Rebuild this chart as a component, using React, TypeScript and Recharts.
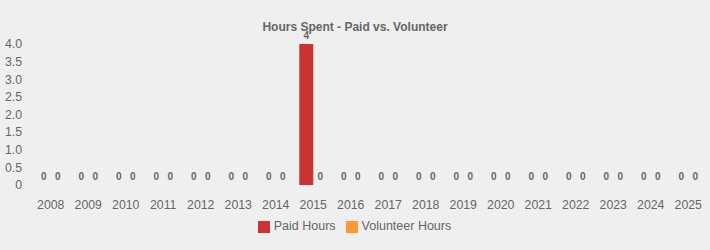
import React from 'react';
import { BarChart, Bar, XAxis, YAxis, Legend, LabelList } from 'recharts';

const years = ['2008','2009','2010','2011','2012','2013','2014','2015','2016','2017','2018','2019','2020','2021','2022','2023','2024','2025'];
const paidHours = [0,0,0,0,0,0,0,4,0,0,0,0,0,0,0,0,0,0];
const volunteerHours = [0,0,0,0,0,0,0,0,0,0,0,0,0,0,0,0,0,0];
const yTicks = [0,0.5,1,1.5,2,2.5,3,3.5,4];

const data = years.map((y, i) => ({ year: y, paid: paidHours[i], volunteer: volunteerHours[i] }));

const font = 'Liberation Sans, Arial, sans-serif';

const renderLabel = (props: any) => {
  const { x, y, width, height, value } = props;
  if (x == null || y == null) return null;
  const top = Number(height) < 0.5 ? Number(y) + Number(height) : Number(y);
  return (
    <text x={Number(x) + Number(width) / 2} y={top - 5} textAnchor="middle" fill="#666" fontSize={10} fontWeight="bold" fontFamily={font}>
      {value}
    </text>
  );
};

export default function App() {
  return (
    <div style={{ position: 'fixed', left: 0, top: 0, width: 710, height: 250, background: '#efefef', fontFamily: font }}>
      <div style={{ position: 'absolute', top: 20, left: 0, width: 710, textAlign: 'center', fontSize: 12, fontWeight: 'bold', color: '#666' }}>
        Hours Spent - Paid vs. Volunteer
      </div>
      <div style={{ position: 'absolute', top: 0, left: 0 }}>
        <BarChart width={710} height={250} data={data} margin={{ top: 44, right: 3, left: 0, bottom: 5 }} barGap={0} barCategoryGap="12.7%">
          <XAxis dataKey="year" axisLine={false} tickLine={false} tickSize={0} tickMargin={15} height={34} tick={{ fill: '#666', fontSize: 12.3, fontFamily: font }} interval={0} />
          <YAxis width={32} domain={[0, 4]} ticks={yTicks} axisLine={false} tickLine={false} tickSize={0} tickMargin={10} tick={{ fill: '#666', fontSize: 12.3, fontFamily: font }} tickFormatter={(v: number) => (v === 0 ? '0' : v.toFixed(1))} interval={0} />
          <Legend verticalAlign="bottom" height={26} iconType="square" iconSize={12} wrapperStyle={{ fontSize: 12.5, fontFamily: font, paddingLeft: 12, boxSizing: 'border-box' }} formatter={(value: string) => <span style={{ color: '#666' }}>{value}</span>} />
          <Bar dataKey="paid" name="Paid Hours" fill="#cc3333" minPointSize={0.01} isAnimationActive={false}>
            <LabelList dataKey="paid" content={renderLabel} />
          </Bar>
          <Bar dataKey="volunteer" name="Volunteer Hours" fill="#ff9933" minPointSize={0.01} isAnimationActive={false}>
            <LabelList dataKey="volunteer" content={renderLabel} />
          </Bar>
        </BarChart>
      </div>
    </div>
  );
}
